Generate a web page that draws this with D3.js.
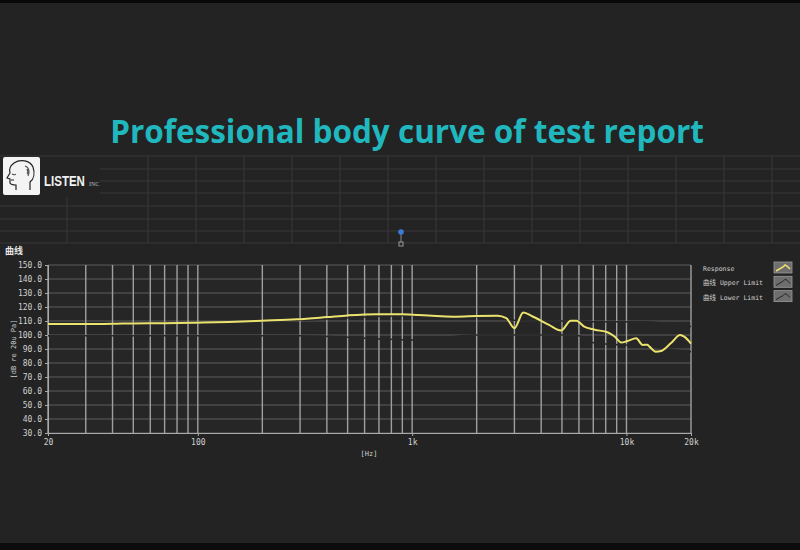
<!DOCTYPE html>
<html>
<head>
<meta charset="utf-8">
<script src="https://cdn.jsdelivr.net/npm/d3@7"></script>
<style>
  body { margin: 0; background: #222; }
  svg { display: block; }
</style>
</head>
<body>
<svg id="chart"></svg>
<script>
// response curve (Hz, dB)
var freqs = [20, 30, 40, 50, 70, 100, 140, 200, 290, 400, 500, 680, 900, 1000, 1300, 1600, 2000, 2500,
  2750, 3000, 3300, 3650, 4350, 4950, 5500, 5850, 6350, 7100, 8200, 8800, 9450, 10100, 11100,
  11900, 12500, 12800, 13700, 14500, 16100, 17800, 18600, 20000];
var response = [107.9, 107.9, 108.0, 108.3, 108.4, 108.8, 109.3, 110.2, 111.2, 112.8, 114.0, 114.9, 114.8, 114.5, 113.6, 113.1, 113.6, 113.8,
  112.0, 104.9, 116.1, 113.2, 107.2, 103.2, 110.2, 110.1, 106.0, 103.8, 101.8, 98.9, 94.6, 95.7, 97.6,
  92.9, 93.0, 91.7, 88.1, 88.6, 94.1, 100.0, 98.8, 93.8];

// limit curves, drawn in the plot background colour (only seen where they cut the grid)
var limitFreqs = [20, 300, 1000, 2000, 3500, 5800, 7000, 12000, 20000];
var upperLimit = [107.5, 110.5, 114, 113, 110, 110, 109.5, 109.5, 106];
var lowerLimit = [99.5, 99.5, 96.5, 100, 100, 100, 94.5, 92, 88];

var yTicks = [30, 40, 50, 60, 70, 80, 90, 100, 110, 120, 130, 140, 150];
var xGrid = [20, 30, 40, 50, 60, 70, 80, 90, 100, 200, 300, 400, 500, 600, 700, 800, 900,
  1000, 2000, 3000, 4000, 5000, 6000, 7000, 8000, 9000, 10000, 20000];
var xLabels = [[20, "20"], [100, "100"], [1000, "1k"], [10000, "10k"], [20000, "20k"]];
var legendItems = ["Response", "曲线 Upper Limit", "曲线 Lower Limit"];

var W = 800, H = 550;
var svg = d3.select("#chart").attr("width", W).attr("height", H);

svg.append("rect").attr("width", W).attr("height", H).attr("fill", "#232323");
svg.append("rect").attr("width", W).attr("height", 3).attr("fill", "#080808");
svg.append("rect").attr("y", 543).attr("width", W).attr("height", 7).attr("fill", "#0c0c0c");

// title
svg.append("text")
  .attr("x", 407).attr("y", 143)
  .attr("text-anchor", "middle")
  .style("font-family", "'Open Sans', sans-serif")
  .style("font-weight", "bold")
  .style("font-size", "31.5px")
  .style("fill", "#20b8be")
  .text("Professional body curve of test report");

// header panel grid (report template)
var head = svg.append("g").attr("stroke", "#383838").attr("stroke-width", 1);
[156, 169, 181, 193].forEach(function(y) {
  head.append("line").attr("x1", 100).attr("x2", W).attr("y1", y).attr("y2", y);
});
[206, 219, 231, 243].forEach(function(y) {
  head.append("line").attr("x1", 0).attr("x2", W).attr("y1", y).attr("y2", y);
});
head.append("line").attr("x1", 0).attr("x2", 100).attr("y1", 156).attr("y2", 156);
head.append("line").attr("x1", 67).attr("x2", 67).attr("y1", 197).attr("y2", 243);
d3.range(148, W, 48).forEach(function(x) {
  head.append("line").attr("x1", x).attr("x2", x).attr("y1", 156).attr("y2", 243);
});

// logo
var logo = svg.append("g").attr("transform", "translate(3,157)");
logo.append("rect").attr("width", 37).attr("height", 38).attr("rx", 2).attr("fill", "#f4f4f4");
logo.append("path")
  .attr("d", "M27,33 L27,25 C31,22 32,16 30,10 C27,3 17,2 11,6 C7,9 6,13 7,16 L4,21 L7,22 L7,26 C8,28 11,28 13,28 L13,33")
  .attr("fill", "none").attr("stroke", "#222").attr("stroke-width", 1.2);
logo.append("path")
  .attr("d", "M22,9 C26,10 27,15 25,19 M24,12 C25,14 25,16 24,17")
  .attr("fill", "none").attr("stroke", "#555").attr("stroke-width", 1.2);
logo.append("path")
  .attr("d", "M9,17 C11,18 12,18 13,17 M8,23 L11,23")
  .attr("fill", "none").attr("stroke", "#222").attr("stroke-width", 1);
svg.append("text")
  .attr("transform", "translate(44,186) scale(1,1.35)")
  .style("font-family", "'Liberation Sans', sans-serif")
  .style("font-weight", "bold").style("font-size", "11.5px").style("fill", "#f2f2f2")
  .text("LISTEN");
svg.append("text")
  .attr("x", 89).attr("y", 186)
  .style("font-family", "'Liberation Serif', serif")
  .style("font-size", "6px").style("fill", "#bbb")
  .text("INC");

// small marker between panels
svg.append("line").attr("x1", 401).attr("x2", 401).attr("y1", 232).attr("y2", 242)
  .attr("stroke", "#888").attr("stroke-width", 1);
svg.append("circle").attr("cx", 401).attr("cy", 232).attr("r", 2.8).attr("fill", "#3b7bd8");
svg.append("rect").attr("x", 399).attr("y", 242).attr("width", 4).attr("height", 4)
  .attr("fill", "none").attr("stroke", "#999");

svg.append("text")
  .attr("x", 5).attr("y", 254)
  .style("font-family", "'Noto Sans CJK SC', sans-serif")
  .style("font-weight", "bold").style("font-size", "9px").style("fill", "#e8e8e8")
  .text("曲线");

// plot
var x = d3.scaleLog().domain([20, 20000]).range([48, 691]);
var y = d3.scaleLinear().domain([30, 150]).range([433, 265]);

svg.append("rect")
  .attr("x", x(20)).attr("y", y(150))
  .attr("width", x(20000) - x(20)).attr("height", y(30) - y(150))
  .attr("fill", "#262626");

svg.append("g").selectAll("line").data(yTicks).enter().append("line")
  .attr("x1", x(20)).attr("x2", x(20000))
  .attr("y1", function(d) { return y(d); }).attr("y2", function(d) { return y(d); })
  .attr("stroke", "#5c5c5c").attr("stroke-width", 1.2);

svg.append("g").selectAll("line").data(xGrid).enter().append("line")
  .attr("x1", function(d) { return x(d); }).attr("x2", function(d) { return x(d); })
  .attr("y1", y(150)).attr("y2", y(30))
  .attr("stroke", "#a0a0a0").attr("stroke-width", 1.4);

// axes
var mono = "'DejaVu Sans Mono', monospace";
var yAxis = svg.append("g")
  .attr("transform", "translate(" + x(20) + ",0)")
  .call(d3.axisLeft(y).tickValues(yTicks).tickSize(3).tickFormat(d3.format(".1f")));
var xAxis = svg.append("g")
  .attr("transform", "translate(0," + y(30) + ")")
  .call(d3.axisBottom(x).tickValues(xLabels.map(function(d) { return d[0]; })).tickSize(3)
    .tickFormat(function(d) { return xLabels.find(function(l) { return l[0] === d; })[1]; }));
[yAxis, xAxis].forEach(function(a) {
  a.select(".domain").attr("stroke", "#aaa");
  a.selectAll(".tick line").attr("stroke", "#aaa");
  a.selectAll("text").style("font-family", mono).style("font-size", "8px").style("fill", "#d0d0d0");
});

svg.append("text")
  .attr("transform", "translate(16," + y(90) + ") rotate(-90)")
  .attr("text-anchor", "middle")
  .style("font-family", mono).style("font-size", "7px").style("fill", "#d0d0d0")
  .text("[dB re 20u Pa]");
svg.append("text")
  .attr("x", 369).attr("y", 456).attr("text-anchor", "middle")
  .style("font-family", mono).style("font-size", "7px").style("fill", "#d0d0d0")
  .text("[Hz]");

// curves
var line = d3.line()
  .x(function(d) { return x(d[0]); })
  .y(function(d) { return y(d[1]); })
  .curve(d3.curveMonotoneX);

[upperLimit, lowerLimit].forEach(function(lim) {
  svg.append("path")
    .attr("d", line(d3.zip(limitFreqs, lim)))
    .attr("fill", "none").attr("stroke", "#272727").attr("stroke-width", 1.5);
});

svg.append("path")
  .attr("d", line(d3.zip(freqs, response)))
  .attr("fill", "none")
  .attr("stroke", "#ece36e")
  .attr("stroke-width", 2)
  .attr("stroke-linejoin", "round");

// legend
var legend = svg.append("g").selectAll("g").data(legendItems).enter().append("g")
  .attr("transform", function(d, i) { return "translate(703," + (268 + i * 14.3) + ")"; });
legend.append("text")
  .attr("y", 3)
  .style("font-family", "'DejaVu Sans Mono', 'Noto Sans CJK SC', monospace")
  .style("font-size", "6.5px").style("fill", "#d0d0d0")
  .text(function(d) { return d; });
legend.append("rect")
  .attr("x", 71).attr("y", -6).attr("width", 18).attr("height", 11)
  .attr("fill", "#6e6e6e").attr("stroke", "#9a9a9a").attr("stroke-width", 0.8);
legend.append("path")
  .attr("d", "M73,3 L80,-1 L82,-3 L84,-2 L87,1")
  .attr("fill", "none")
  .attr("stroke", function(d, i) { return i === 0 ? "#f0e470" : "#222"; })
  .attr("stroke-width", function(d, i) { return i === 0 ? 1.5 : 1; });
</script>
</body>
</html>
